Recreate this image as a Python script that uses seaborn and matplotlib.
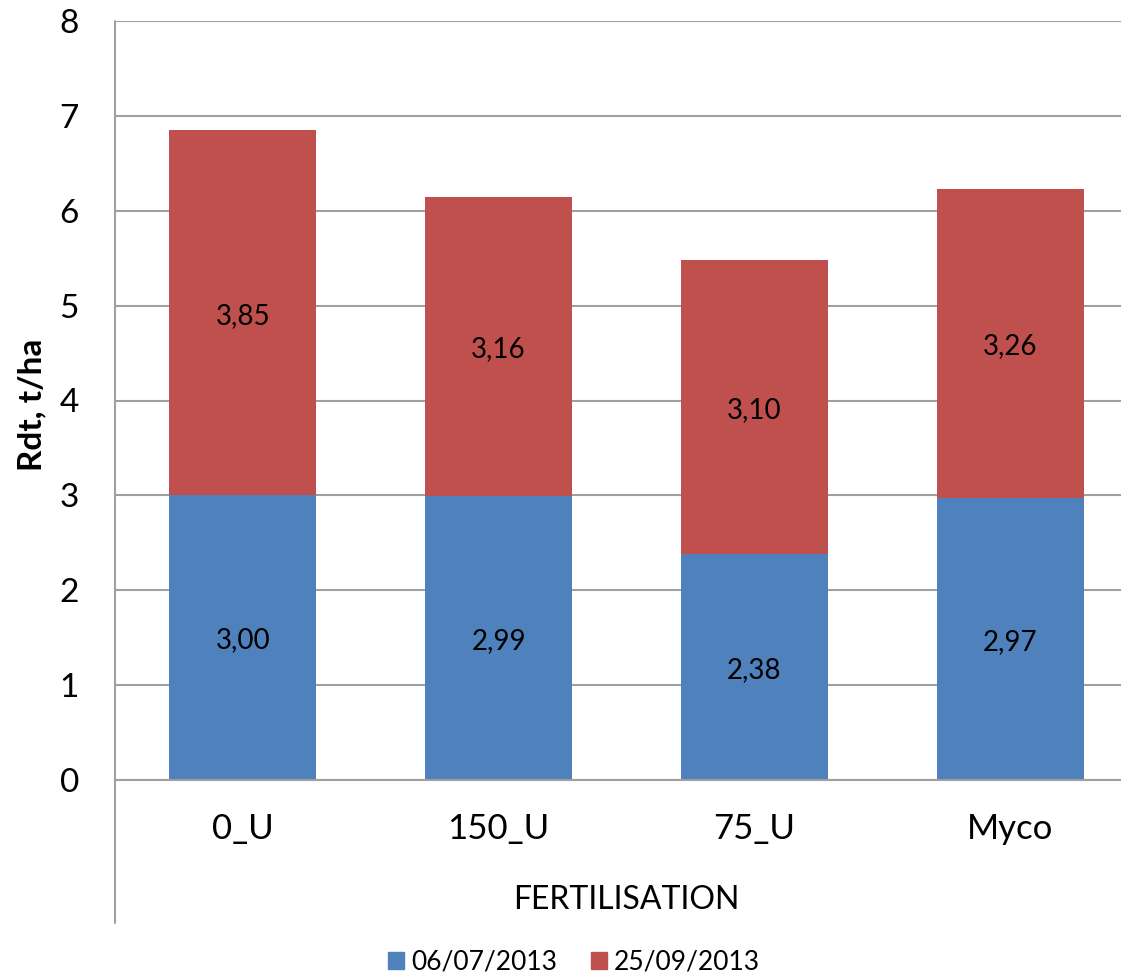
import numpy as np
import pandas as pd
import matplotlib
matplotlib.use('Agg')
import matplotlib.pyplot as plt
from matplotlib.lines import Line2D
from matplotlib.patches import Patch
import seaborn as sns

# values
categories = ['0_U', '150_U', '75_U', 'Myco']
harvest_1 = [3.00, 2.99, 2.38, 2.97]
harvest_2 = [3.85, 3.16, 3.10, 3.26]
series_names = ['06/07/2013', '25/09/2013']
colors = ['#4F81BD', '#C0504D']

df = pd.DataFrame({'cat': categories, 'h1': harvest_1, 'h2': harvest_2})

sns.set_style('white')
plt.rcParams['font.family'] = ['Lato', 'DejaVu Sans']
plt.rcParams['text.color'] = 'black'
plt.rcParams['xtick.color'] = 'black'
plt.rcParams['ytick.color'] = 'black'

W, H = 1121, 976
fig = plt.figure(figsize=(W / 100, H / 100), dpi=100)
x0, x1, y_top, y_bot = 115, 1138, 21, 780
ax = fig.add_axes([x0 / W, 1 - y_bot / H, (x1 - x0) / W, (y_bot - y_top) / H])

grid_col = '#A0A0A0'
ax.set_axisbelow(True)
ax.yaxis.grid(True, color=grid_col, lw=1.5)

sns.barplot(data=df, x='cat', y='h1', color=colors[0], width=0.574,
            saturation=1, ax=ax, linewidth=0)
sns.barplot(data=df, x='cat', y='h2', color=colors[1], width=0.574,
            saturation=1, ax=ax, linewidth=0, bottom=df['h1'])

# segment labels
for i, (a, b) in enumerate(zip(harvest_1, harvest_2)):
    ax.text(i, a / 2 - 0.03, f'{a:.2f}'.replace('.', ','), ha='center', va='center',
            fontsize=20, color='black')
    ax.text(i, a + b / 2 - 0.03, f'{b:.2f}'.replace('.', ','), ha='center', va='center',
            fontsize=20, color='black')

ax.set_xlim(-0.5, 3.5)
ax.set_ylim(0, 8)
ax.set_yticks(range(0, 9))
ax.tick_params(axis='y', length=0, pad=26, labelsize=24, labelcolor='black')
ax.tick_params(axis='x', length=0, pad=24, labelsize=25, labelcolor='black')
ax.set_xlabel('')
ax.set_ylabel('')

for s in ['top', 'right']:
    ax.spines[s].set_visible(False)
ax.spines['left'].set_visible(False)
ax.spines['bottom'].set_color(grid_col)
ax.spines['bottom'].set_linewidth(1.5)

# long left axis line going under the category labels
fig.add_artist(Line2D([x0 / W, x0 / W], [1 - 923 / H, 1 - y_top / H],
                      color=grid_col, lw=1.5, transform=fig.transFigure))

fig.text(626 / W, 1 - 900 / H, 'FERTILISATION', ha='center', va='center', fontsize=23)
fig.text(32 / W, 1 - 405 / H, 'Rdt, t/ha', ha='center', va='center', rotation=90,
         fontsize=24, fontweight='bold')

handles = [Patch(color=c, label=n) for c, n in zip(colors, series_names)]
fig.legend(handles=handles, loc='center', bbox_to_anchor=(574 / W, 1 - 962 / H),
           ncol=2, frameon=False, fontsize=19, handlelength=0.6, handleheight=0.6,
           handletextpad=0.25, columnspacing=1.3, borderaxespad=0)

fig.savefig('out.png', dpi=100)
